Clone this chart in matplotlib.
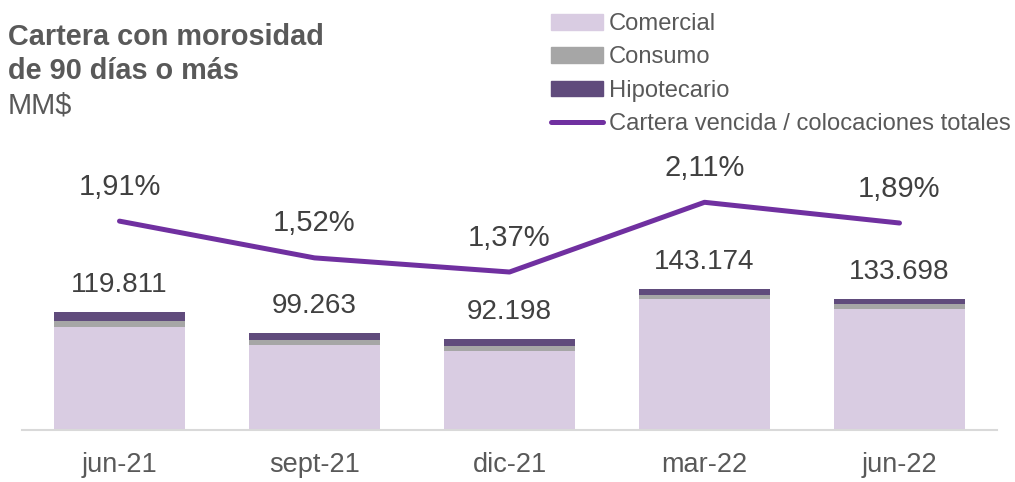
import numpy as np
import matplotlib
matplotlib.use("Agg")
import matplotlib.pyplot as plt
from matplotlib.patches import Patch
from matplotlib.lines import Line2D

plt.rcParams["font.family"] = ["Liberation Sans", "DejaVu Sans"]

# ---- data (MM$) ----
periods = ["jun-21", "sept-21", "dic-21", "mar-22", "jun-22"]
totals = [119811, 99263, 92198, 143174, 133698]
consumo = [5800, 5100, 4700, 4100, 5000]
hipotecario = [8800, 7400, 6800, 6100, 5300]
comercial = [t - c - h for t, c, h in zip(totals, consumo, hipotecario)]
ratio = [1.91, 1.52, 1.37, 2.11, 1.89]          # cartera vencida / colocaciones (%)
ratio_labels = ["1,91%", "1,52%", "1,37%", "2,11%", "1,89%"]
total_labels = ["119.811", "99.263", "92.198", "143.174", "133.698"]

C_COM, C_CON, C_HIP, C_LINE = "#d9cce2", "#a6a6a6", "#604b7c", "#7030a0"
TXT, TICK = "#404040", "#595959"

fig = plt.figure(figsize=(10.15, 4.82), dpi=100)
ax = fig.add_axes([22 / 1015, 51.7 / 482, 975 / 1015, 280.3 / 482])
x = np.arange(len(periods))
w = 0.667

ax.bar(x, comercial, w, color=C_COM, zorder=2)
ax.bar(x, consumo, w, bottom=comercial, color=C_CON, zorder=2)
base2 = [a + b for a, b in zip(comercial, consumo)]
ax.bar(x, hipotecario, w, bottom=base2, color=C_HIP, zorder=2)
for xi, t, lab in zip(x, totals, total_labels):
    ax.annotate(lab, (xi, t), xytext=(0, 14.4), textcoords="offset points",
                ha="center", va="baseline", fontsize=20, color=TXT)

ax.set_xlim(-0.5, len(periods) - 0.5)
ax.set_ylim(0, 284500)
ax.set_yticks([])
for s in ["top", "right", "left"]:
    ax.spines[s].set_visible(False)
ax.spines["bottom"].set_color("#d9d9d9")
ax.spines["bottom"].set_linewidth(1.5)
ax.set_xticks(x)
ax.set_xticklabels(periods, fontsize=19.5, color=TICK)
ax.tick_params(axis="x", length=0, pad=15.5)

ax2 = ax.twinx()
ax2.plot(x, ratio, color=C_LINE, lw=3.6, solid_capstyle="round", zorder=3)
for xi, r, lab in zip(x, ratio, ratio_labels):
    ax2.annotate(lab, (xi, r), xytext=(0, 19), textcoords="offset points",
                 ha="center", va="baseline", fontsize=21, color=TXT)
ax2.set_ylim(-0.310, 2.665)
ax2.set_yticks([])
for s in ax2.spines.values():
    s.set_visible(False)

# ---- title ----
fig.text(8 / 1015, 1 - 45 / 482, "Cartera con morosidad", fontsize=20.8,
         fontweight="bold", color=TICK, va="baseline")
fig.text(8 / 1015, 1 - 79 / 482, "de 90 días o más", fontsize=20.8,
         fontweight="bold", color=TICK, va="baseline")
fig.text(8 / 1015, 1 - 114 / 482, "MM$", fontsize=20.8, color=TICK, va="baseline")

# ---- legend ----
handles = [Patch(color=C_COM), Patch(color=C_CON), Patch(color=C_HIP),
           Line2D([], [], color=C_LINE, lw=3.6, solid_capstyle="round")]
labels = ["Comercial", "Consumo", "Hipotecario", "Cartera vencida / colocaciones totales"]
fig.legend(handles, labels, loc="upper left", bbox_to_anchor=(551 / 1015, 1 - 13 / 482),
           frameon=False, fontsize=17.1, labelcolor=TICK, handlelength=2.2,
           handleheight=0.65, handletextpad=0.25, labelspacing=0.48, borderpad=0,
           borderaxespad=0)

fig.savefig("out.png", dpi=100)
